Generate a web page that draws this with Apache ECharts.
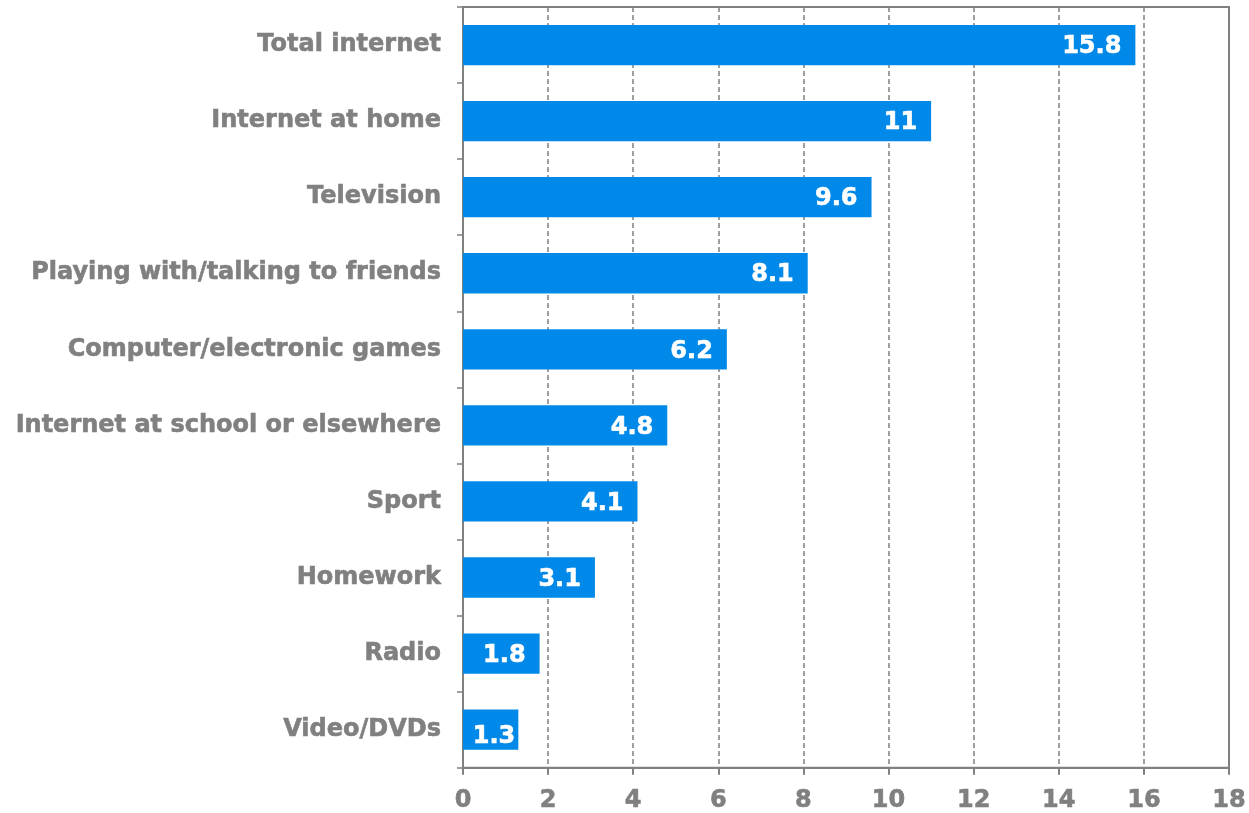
<!DOCTYPE html>
<html>
<head>
<meta charset="utf-8">
<script src="https://cdn.jsdelivr.net/npm/echarts@6/dist/echarts.min.js"></script>
<style>
  html, body { margin: 0; padding: 0; background: #fff; }
  #chart { width: 1249px; height: 813px; }
</style>
</head>
<body>
<div id="chart"></div>
<script>
// Activities, listed bottom to top as the category axis draws them
const categories = [
  'Video/DVDs',
  'Radio',
  'Homework',
  'Sport',
  'Internet at school or elsewhere',
  'Computer/electronic games',
  'Playing with/talking to friends',
  'Television',
  'Internet at home',
  'Total internet'
];
const hoursPerWeek = [1.3, 1.8, 3.1, 4.1, 4.8, 6.2, 8.1, 9.6, 11, 15.8];

const axisGrey = '#808080';
const font = 'DejaVu Sans, Verdana, sans-serif';

// The shortest bar is too narrow for the usual inset, so its label sits tight to the end
const barData = hoursPerWeek.map(function (v, i) {
  if (i === 0) {
    return { value: v, label: { distance: 3, offset: [0, 7] } };
  }
  return v;
});

const chart = echarts.init(document.getElementById('chart'), null, { renderer: 'canvas' });
chart.setOption({
  animation: false,
  backgroundColor: '#fff',
  grid: {
    left: 463, right: 20, top: 7, bottom: 45,
    show: true, borderColor: axisGrey, borderWidth: 2, backgroundColor: 'transparent'
  },
  xAxis: {
    type: 'value',
    min: 0, max: 18, interval: 2,
    axisLine: { show: true, lineStyle: { color: axisGrey, width: 2 } },
    axisTick: { show: true, length: 7, lineStyle: { color: axisGrey, width: 2 } },
    axisLabel: {
      color: axisGrey, fontFamily: font, fontWeight: 'bold', fontSize: 24, margin: 21,
      textBorderColor: axisGrey, textBorderWidth: 0.6
    },
    splitLine: { show: true, lineStyle: { color: axisGrey, type: [5, 3], width: 1.5 } }
  },
  yAxis: {
    type: 'category',
    data: categories,
    axisLine: { show: true, lineStyle: { color: axisGrey, width: 2 } },
    axisTick: { show: true, length: 6, alignWithLabel: false, lineStyle: { color: axisGrey, width: 1.5 } },
    axisLabel: {
      color: axisGrey, fontFamily: font, fontWeight: 'bold', fontSize: 24, margin: 22,
      padding: [5, 0, 0, 0],
      textBorderColor: axisGrey, textBorderWidth: 0.6
    },
    splitLine: { show: false }
  },
  series: [{
    type: 'bar',
    data: barData,
    barCategoryGap: '47%',
    itemStyle: { color: '#0089E8' },
    label: {
      show: true,
      position: 'insideRight',
      distance: 14,
      offset: [0, 2],
      color: '#fff',
      fontFamily: font,
      fontWeight: 'bold',
      fontSize: 24,
      textBorderColor: '#fff',
      textBorderWidth: 0.6
    }
  }]
});
</script>
</body>
</html>
